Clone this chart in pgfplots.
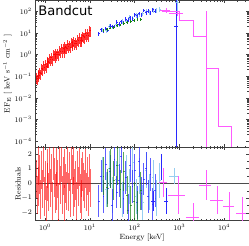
\documentclass[border=0pt]{standalone}
\usepackage{fontspec}
\newfontfamily\dejavu{DejaVu Sans}
\usepackage{pgfplots}
\usepackage{pgfplotstable}
\pgfplotsset{compat=1.18}
\definecolor{cRed}{RGB}{255,0,0}
\definecolor{cGreen}{RGB}{20,130,20}
\definecolor{cBlue}{RGB}{40,40,255}
\definecolor{cCyan}{RGB}{150,205,240}
\definecolor{cMag}{RGB}{255,90,255}

% red: E, EF_E
\pgfplotstableread{
x y
0.631 0.091
0.661 0.078
0.692 0.134
0.724 0.112
0.759 0.152
0.794 0.134
0.832 0.234
0.871 0.214
0.912 0.342
0.955 0.253
1.000 0.366
1.047 0.279
1.096 0.498
1.148 0.463
1.202 0.456
1.259 0.723
1.318 0.594
1.380 0.765
1.445 0.600
1.514 1.05
1.585 1.00
1.660 0.796
1.738 1.26
1.820 0.981
1.905 1.23
1.995 1.01
2.089 1.63
2.188 1.40
2.291 2.05
2.399 1.45
2.512 2.02
2.630 1.46
2.754 2.45
2.884 2.14
3.020 2.02
3.162 3.00
3.311 2.31
3.467 2.96
3.631 2.26
3.802 3.84
3.981 3.60
4.169 2.81
4.365 4.34
4.571 3.27
4.786 4.08
5.012 3.26
5.248 5.24
5.495 4.34
5.754 6.37
6.026 4.36
6.310 6.05
6.607 4.42
6.918 7.57
7.244 6.76
7.586 6.37
7.943 9.70
8.318 7.65
8.710 9.80
9.120 7.64
9.550 13.3
10.00 12.7
}\redtab

\pgfplotstableread{
x y
0.631 0.3
0.661 -0.8
0.692 1.2
0.724 -0.2
0.759 0.6
0.794 -1.1
0.832 0.9
0.871 -0.4
0.912 1.4
0.955 -0.9
1.000 0.2
1.047 -1.5
1.096 1.0
1.148 0.1
1.202 -0.6
1.259 1.3
1.318 -0.3
1.380 0.7
1.445 -1.2
1.514 1.5
1.585 0.4
1.660 -0.7
1.738 1.1
1.820 -0.5
1.905 0.3
1.995 -1.3
2.089 1.2
2.188 -0.1
2.291 1.4
2.399 -0.8
2.512 0.5
2.630 -1.4
2.754 1.0
2.884 0.0
3.020 -0.5
3.162 1.3
3.311 -0.6
3.467 0.8
3.631 -1.0
3.802 1.5
3.981 0.6
4.169 -0.9
4.365 1.2
4.571 -0.3
4.786 0.2
5.012 -1.2
5.248 0.9
5.495 -0.2
5.754 1.1
6.026 -0.7
6.310 0.4
6.607 -1.1
6.918 0.8
7.244 0.1
7.586 -0.4
7.943 1.0
8.318 -0.6
8.710 0.5
9.120 -0.9
9.550 0.7
10.00 -0.3
}\redres

\pgfplotstableread{
x y r
15.8 9.2 -1.2
17.8 14.4 0.5
20.0 12.6 -0.9
22.4 16.3 1.3
25.1 13.1 -0.3
28.2 20.9 0.8
31.6 20.3 -1.5
35.5 20.3 1.6
39.8 31.3 -0.6
44.7 25.6 0.2
50.1 33.3 1.8
56.2 29.2 -1.0
63.1 45.0 0.4
70.8 40.2 -1.8
79.4 51.7 1.2
89.1 45.9 -0.2
100 69.6 0.9
112 62.5 -1.3
126 80.2 1.5
141 71.6 -0.7
158 112 0.3
178 87 1.0
200 103 -0.9
224 88 0.6
251 119 -1.4
282 104 -0.5
}\bluetab

\pgfplotstableread{
x y r
19 14.1 0.6
23 13.7 -0.4
27 20.2 1.0
32 19.5 -0.8
38 26.4 0.3
45 25.1 1.2
54 36.2 -1.1
64 36.4 0.7
76 51.3 -0.2
90 46.8 1.4
107 66.7 -0.9
127 74 0.5
151 78 -1.3
180 101 0.9
214 92 -0.6
254 116 0.4
302 111 -1.0
360 122 0.2
}\cyantab

\pgfplotstableread{
x y r
20 13.5 0.5
24 14.5 -0.3
28 17 1.0
34 18.5 0.2
40 21.5 1.2
48 23.5 -0.4
57 27 0.8
68 30 -0.8
81 34 -1.5
96 37 -1.2
115 42 -1.8
137 41 -0.5
}\greentab

\begin{document}
\begin{tikzpicture}
\pgfplotsset{
  every axis/.append style={
    scale only axis, width=212pt,
    xmode=log, xmin=0.61, xmax=35500,
    tick label style={font=\fontsize{7}{8}\selectfont},
    label style={font=\fontsize{7.5}{9}\selectfont},
    axis line style={black!75},
    major tick length=3pt, minor tick length=1.6pt,
    every tick/.style={black!75},
    clip=true,
  },
  eb/.style={draw=none, mark=none, forget plot},
}
\begin{axis}[name=top, height=146pt,
  ymode=log, ymin=5.3e-5, ymax=325,
  xticklabels={},
  ytick={1e-4,1e-3,1e-2,1e-1,1,10,100},
  ylabel={EF$_\mathrm{E}$ [ keV s$^{-1}$ cm$^{-2}$ ]},
  ylabel style={yshift=-4pt},
]
% red
\addplot[eb, error bars/.cd, y dir=both, y fixed relative=0.5,
  x dir=both, x fixed relative=0.012,
  error mark=none, error bar style={cRed, opacity=0.8, line width=0.7pt}]
  table[x=x,y=y] {\redtab};
% cyan
\addplot[eb, error bars/.cd, y dir=both, y fixed relative=0.25,
  x dir=both, x fixed relative=0.05,
  error mark=none, error bar style={cCyan, line width=0.5pt}]
  table[x=x,y=y] {\cyantab};
% blue
\addplot[eb, error bars/.cd, y dir=both, y fixed relative=0.2,
  x dir=both, x fixed relative=0.04,
  error mark=none, error bar style={cBlue, line width=0.5pt}]
  table[x=x,y=y] {\bluetab};
% green
\addplot[eb, error bars/.cd, y dir=both, y fixed relative=0.15,
  x dir=both, x fixed relative=0.04,
  error mark=none, error bar style={cGreen, line width=0.6pt}]
  table[x=x,y=y] {\greentab};
% blue point with huge error
\addplot[eb, error bars/.cd, y dir=both, y explicit,
  x dir=both, x explicit,
  error mark=none, error bar style={cBlue, line width=0.6pt}]
  coordinates {(850,20) +- (80,19.99999)};
\addplot[eb, error bars/.cd, y dir=plus, y explicit,
  error mark=none, error bar style={cBlue, line width=0.6pt}]
  coordinates {(850,20) +- (0,800)};
% cyan high point
\addplot[eb, error bars/.cd, y dir=both, y explicit,
  x dir=both, x explicit,
  error mark=none, error bar style={cCyan, line width=0.6pt}]
  coordinates {(880,260) +- (80,200)};
% magenta model (step)
\addplot[const plot, cMag, line width=0.7pt, mark=none] coordinates {
 (400,97) (1000,40) (2050,6.6) (4000,0.22) (7500,4.8e-4) (14800,1e-6) (40000,1e-6)};
% magenta data
\addplot[eb, error bars/.cd, y dir=both, y explicit,
  x dir=both, x explicit,
  error mark=none, error bar style={cMag, line width=0.6pt}]
  coordinates {(500,110) +- (130,25) (900,78) +- (300,20)};
\addplot[eb, error bars/.cd, y dir=plus, y explicit,
  error mark=none, error bar style={cMag, line width=0.6pt}]
  coordinates {(4000,2e-5) +- (0,100)};
\node[anchor=north west, font=\dejavu\fontsize{13}{14}\selectfont, inner sep=1pt]
  at (rel axis cs:0.008,0.975) {Bandcut};
\end{axis}

\begin{axis}[at={(top.south west)}, anchor=north west, height=73pt,
  ymin=-2.52, ymax=2.45,
  ytick={-2,-1,0,1,2},
  minor y tick num=1,
  xlabel={Energy [keV]},
  ylabel={Residuals},
  xlabel style={yshift=3pt},
  ylabel style={yshift=-6pt},
  xtick={1,10,100,1000,10000},
]
\addplot[black!70, line width=0.8pt, mark=none] coordinates {(0.5,0) (40000,0)};
\addplot[eb, error bars/.cd, y dir=both, y fixed=1.3,
  error mark=none, error bar style={cRed, opacity=0.6, line width=0.6pt}]
  table[x=x,y=y] {\redres};
\addplot[eb, error bars/.cd, y dir=both, y fixed=1.2,
  x dir=both, x fixed relative=0.04,
  error mark=none, error bar style={cCyan, line width=0.5pt}]
  table[x=x,y=r] {\cyantab};
\addplot[eb, error bars/.cd, y dir=both, y fixed=1.1,
  x dir=both, x fixed relative=0.04,
  error mark=none, error bar style={cBlue, opacity=0.75, line width=0.5pt}]
  table[x=x,y=r] {\bluetab};
\addplot[eb, error bars/.cd, y dir=both, y fixed=1.3,
  x dir=both, x fixed relative=0.04,
  error mark=none, error bar style={cGreen, opacity=0.7, line width=0.6pt}]
  table[x=x,y=r] {\greentab};
\addplot[eb, error bars/.cd, y dir=both, y explicit,
  x dir=both, x explicit,
  error mark=none, error bar style={cBlue, line width=0.6pt}]
  coordinates {(262,-1.2) +- (30,0.7) (390,1.1) +- (0,0.9) (510,-1.2) +- (60,0.9)};
\addplot[eb, error bars/.cd, y dir=both, y explicit,
  x dir=both, x explicit,
  error mark=none, error bar style={cCyan, line width=0.6pt}]
  coordinates {(760,0.5) +- (180,0.55)};
\addplot[eb, error bars/.cd, y dir=both, y explicit,
  x dir=both, x explicit,
  error mark=none, error bar style={cMag, line width=0.6pt}]
  coordinates {
  (440,0.05) +- (90,1.0)
  (950,-0.8) +- (400,1.3)
  (2050,-2.3) +- (650,1.0)
  (3900,-0.1) +- (1200,1.0)
  (7200,-1.15) +- (2300,0.95)
  (13000,-1.55) +- (3600,0.95)
  (25000,-2.0) +- (6500,1.1)
  };
\end{axis}
\end{tikzpicture}
\end{document}
